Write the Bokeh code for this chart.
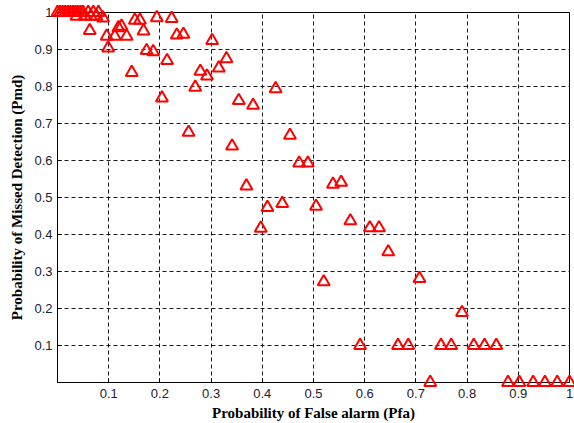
from bokeh.plotting import figure
from bokeh.models import FixedTicker, Range1d, PrintfTickFormatter
from bokeh.embed import file_html
from bokeh.resources import INLINE

# Probability of false alarm (x) and missed detection (y)
pfa = [0.0, 0.005, 0.01, 0.015, 0.02, 0.025, 0.03, 0.035, 0.04, 0.045, 0.05, 0.06, 0.07, 0.08,
       0.037, 0.053, 0.065, 0.076, 0.089,
       0.063, 0.096, 0.112, 0.119, 0.125, 0.135, 0.151, 0.161, 0.168, 0.194, 0.223, 0.233, 0.246,
       0.174, 0.187, 0.214, 0.099, 0.145, 0.204, 0.256, 0.269, 0.279, 0.292, 0.315, 0.330, 0.302,
       0.354, 0.382, 0.426, 0.341, 0.369, 0.410, 0.439, 0.454, 0.397,
       0.472, 0.489, 0.538, 0.554, 0.505, 0.572, 0.610, 0.628, 0.646, 0.520, 0.707, 0.790,
       0.591, 0.665, 0.685, 0.749, 0.769, 0.813, 0.834, 0.857,
       0.728, 0.880, 0.902, 0.929, 0.952, 0.976, 1.0]
pmd = [1.0, 1.0, 1.0, 1.0, 1.0, 1.0, 1.0, 1.0, 1.0, 1.0, 1.0, 1.0, 1.0, 1.0,
       0.99, 0.99, 0.99, 0.99, 0.985,
       0.951, 0.936, 0.936, 0.959, 0.963, 0.936, 0.979, 0.979, 0.95, 0.986, 0.984, 0.939, 0.941,
       0.897, 0.894, 0.870, 0.904, 0.838, 0.769, 0.676, 0.798, 0.841, 0.828, 0.850, 0.875, 0.924,
       0.762, 0.749, 0.794, 0.639, 0.531, 0.473, 0.484, 0.668, 0.417,
       0.593, 0.593, 0.536, 0.541, 0.476, 0.437, 0.418, 0.418, 0.353, 0.272, 0.281, 0.189,
       0.1, 0.1, 0.1, 0.1, 0.1, 0.1, 0.1, 0.1,
       0.0, 0.0, 0.0, 0.0, 0.0, 0.0, 0.0]

ticks = [0.1, 0.2, 0.3, 0.4, 0.5, 0.6, 0.7, 0.8, 0.9, 1]

p = figure(width=574, height=423, output_backend="svg", toolbar_location=None,
           x_range=Range1d(0, 1), y_range=Range1d(0, 1),
           min_border_left=57, min_border_right=5, min_border_top=12, min_border_bottom=41)
p.background_fill_color = "white"
p.border_fill_color = "white"
p.outline_line_color = "black"
p.outline_line_width = 1

p.scatter(pfa, pmd, marker="triangle", size=12, fill_color=None,
          line_color="#ff0000", line_width=2, level="overlay")

for ax in (p.xaxis, p.yaxis):
    ax.ticker = FixedTicker(ticks=ticks)
    ax.formatter = PrintfTickFormatter(format="%g")
    ax.major_tick_in = 4
    ax.major_tick_out = 0
    ax.minor_tick_in = 0
    ax.minor_tick_out = 0
    ax.axis_line_color = "black"
    ax.major_tick_line_color = "black"
    ax.major_label_text_font = "Liberation Sans"
    ax.major_label_text_font_size = "13px"
    ax.major_label_text_color = "#20202e"
    ax.axis_label_text_font = "Liberation Serif"
    ax.axis_label_text_font_style = "bold"
    ax.axis_label_text_font_size = "15px"
    ax.axis_label_text_color = "black"

p.xaxis.axis_label = "Probability of False alarm (Pfa)"
p.yaxis.axis_label = "Probability of Missed Detection (Pmd)"
p.xaxis.major_label_standoff = 6
p.xaxis.axis_label_standoff = 4
p.yaxis.major_label_standoff = 5
p.yaxis.axis_label_standoff = 6

for g in (p.xgrid, p.ygrid):
    g.ticker = FixedTicker(ticks=ticks)
    g.grid_line_color = "black"
    g.grid_line_dash = "4 3"
    g.grid_line_width = 1
    g.grid_line_alpha = 0.9

open("out.html", "w").write(file_html(p, INLINE))
